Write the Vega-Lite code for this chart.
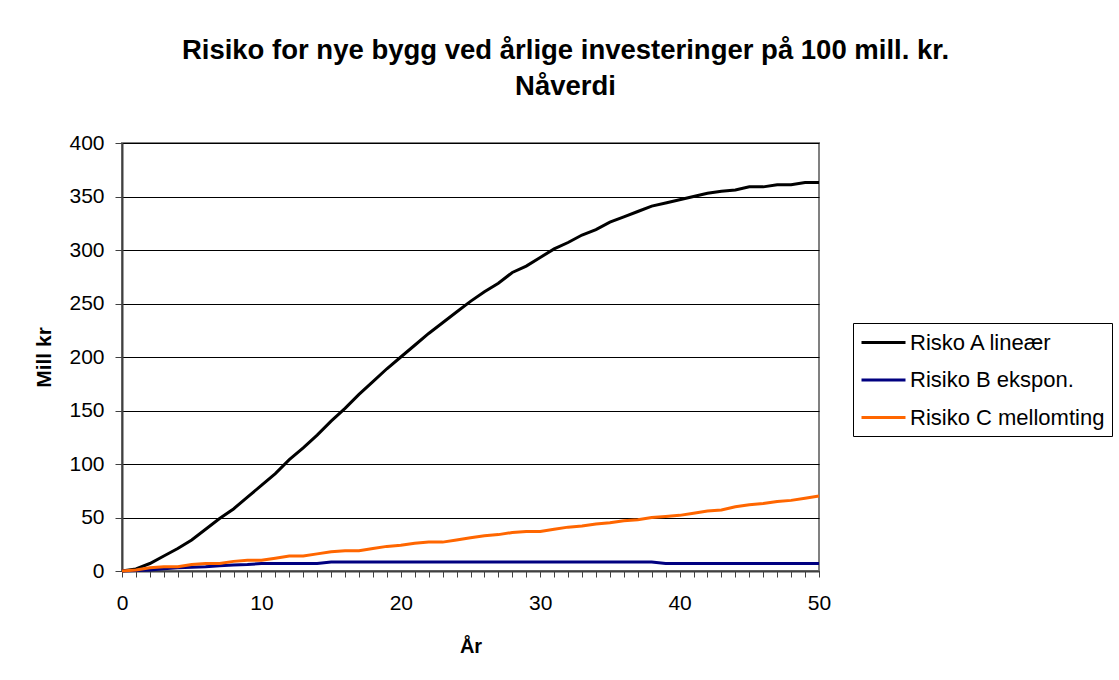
{
  "$schema": "https://vega.github.io/schema/vega-lite/v6.json",
  "autosize": {"type": "none"},
  "width": 697,
  "height": 428,
  "padding": {"left": 122, "top": 143, "right": 300, "bottom": 109},
  "background": "white",
  "title": {
    "text": ["Risiko for nye bygg ved årlige investeringer på 100 mill. kr.", "Nåverdi"],
    "anchor": "middle",
    "frame": "group",
    "dx": 95,
    "offset": 32,
    "font": "Liberation Sans",
    "fontSize": 27.5,
    "fontWeight": "bold",
    "lineHeight": 36,
    "color": "black"
  },
  "config": {
    "font": "Liberation Sans",
    "view": {"stroke": "#808080", "strokeWidth": 2}
  },
  "data": {
    "values": [
      {"year": 0, "serie": "Risko A lineær", "value": 0},
      {"year": 1, "serie": "Risko A lineær", "value": 2},
      {"year": 2, "serie": "Risko A lineær", "value": 7},
      {"year": 3, "serie": "Risko A lineær", "value": 14},
      {"year": 4, "serie": "Risko A lineær", "value": 21},
      {"year": 5, "serie": "Risko A lineær", "value": 29},
      {"year": 6, "serie": "Risko A lineær", "value": 39},
      {"year": 7, "serie": "Risko A lineær", "value": 49},
      {"year": 8, "serie": "Risko A lineær", "value": 58},
      {"year": 9, "serie": "Risko A lineær", "value": 69},
      {"year": 10, "serie": "Risko A lineær", "value": 80},
      {"year": 11, "serie": "Risko A lineær", "value": 91},
      {"year": 12, "serie": "Risko A lineær", "value": 104},
      {"year": 13, "serie": "Risko A lineær", "value": 115},
      {"year": 14, "serie": "Risko A lineær", "value": 127},
      {"year": 15, "serie": "Risko A lineær", "value": 140},
      {"year": 16, "serie": "Risko A lineær", "value": 152},
      {"year": 17, "serie": "Risko A lineær", "value": 165},
      {"year": 18, "serie": "Risko A lineær", "value": 177},
      {"year": 19, "serie": "Risko A lineær", "value": 189},
      {"year": 20, "serie": "Risko A lineær", "value": 200},
      {"year": 21, "serie": "Risko A lineær", "value": 211},
      {"year": 22, "serie": "Risko A lineær", "value": 222},
      {"year": 23, "serie": "Risko A lineær", "value": 232},
      {"year": 24, "serie": "Risko A lineær", "value": 242},
      {"year": 25, "serie": "Risko A lineær", "value": 252},
      {"year": 26, "serie": "Risko A lineær", "value": 261},
      {"year": 27, "serie": "Risko A lineær", "value": 269},
      {"year": 28, "serie": "Risko A lineær", "value": 279},
      {"year": 29, "serie": "Risko A lineær", "value": 285},
      {"year": 30, "serie": "Risko A lineær", "value": 293},
      {"year": 31, "serie": "Risko A lineær", "value": 301},
      {"year": 32, "serie": "Risko A lineær", "value": 307},
      {"year": 33, "serie": "Risko A lineær", "value": 314},
      {"year": 34, "serie": "Risko A lineær", "value": 319},
      {"year": 35, "serie": "Risko A lineær", "value": 326},
      {"year": 36, "serie": "Risko A lineær", "value": 331},
      {"year": 37, "serie": "Risko A lineær", "value": 336},
      {"year": 38, "serie": "Risko A lineær", "value": 341},
      {"year": 39, "serie": "Risko A lineær", "value": 344},
      {"year": 40, "serie": "Risko A lineær", "value": 347},
      {"year": 41, "serie": "Risko A lineær", "value": 350},
      {"year": 42, "serie": "Risko A lineær", "value": 353},
      {"year": 43, "serie": "Risko A lineær", "value": 355},
      {"year": 44, "serie": "Risko A lineær", "value": 356},
      {"year": 45, "serie": "Risko A lineær", "value": 359},
      {"year": 46, "serie": "Risko A lineær", "value": 359},
      {"year": 47, "serie": "Risko A lineær", "value": 361},
      {"year": 48, "serie": "Risko A lineær", "value": 361},
      {"year": 49, "serie": "Risko A lineær", "value": 363},
      {"year": 50, "serie": "Risko A lineær", "value": 363},
      {"year": 0, "serie": "Risiko B ekspon.", "value": 0},
      {"year": 1, "serie": "Risiko B ekspon.", "value": 0.5},
      {"year": 2, "serie": "Risiko B ekspon.", "value": 1},
      {"year": 3, "serie": "Risiko B ekspon.", "value": 2},
      {"year": 4, "serie": "Risiko B ekspon.", "value": 3},
      {"year": 5, "serie": "Risiko B ekspon.", "value": 3.5},
      {"year": 6, "serie": "Risiko B ekspon.", "value": 4},
      {"year": 7, "serie": "Risiko B ekspon.", "value": 5},
      {"year": 8, "serie": "Risiko B ekspon.", "value": 5.5},
      {"year": 9, "serie": "Risiko B ekspon.", "value": 6},
      {"year": 10, "serie": "Risiko B ekspon.", "value": 7},
      {"year": 11, "serie": "Risiko B ekspon.", "value": 7},
      {"year": 12, "serie": "Risiko B ekspon.", "value": 7},
      {"year": 13, "serie": "Risiko B ekspon.", "value": 7},
      {"year": 14, "serie": "Risiko B ekspon.", "value": 7},
      {"year": 15, "serie": "Risiko B ekspon.", "value": 8.5},
      {"year": 16, "serie": "Risiko B ekspon.", "value": 8.5},
      {"year": 17, "serie": "Risiko B ekspon.", "value": 8.5},
      {"year": 18, "serie": "Risiko B ekspon.", "value": 8.5},
      {"year": 19, "serie": "Risiko B ekspon.", "value": 8.5},
      {"year": 20, "serie": "Risiko B ekspon.", "value": 8.5},
      {"year": 21, "serie": "Risiko B ekspon.", "value": 8.5},
      {"year": 22, "serie": "Risiko B ekspon.", "value": 8.5},
      {"year": 23, "serie": "Risiko B ekspon.", "value": 8.5},
      {"year": 24, "serie": "Risiko B ekspon.", "value": 8.5},
      {"year": 25, "serie": "Risiko B ekspon.", "value": 8.5},
      {"year": 26, "serie": "Risiko B ekspon.", "value": 8.5},
      {"year": 27, "serie": "Risiko B ekspon.", "value": 8.5},
      {"year": 28, "serie": "Risiko B ekspon.", "value": 8.5},
      {"year": 29, "serie": "Risiko B ekspon.", "value": 8.5},
      {"year": 30, "serie": "Risiko B ekspon.", "value": 8.5},
      {"year": 31, "serie": "Risiko B ekspon.", "value": 8.5},
      {"year": 32, "serie": "Risiko B ekspon.", "value": 8.5},
      {"year": 33, "serie": "Risiko B ekspon.", "value": 8.5},
      {"year": 34, "serie": "Risiko B ekspon.", "value": 8.5},
      {"year": 35, "serie": "Risiko B ekspon.", "value": 8.5},
      {"year": 36, "serie": "Risiko B ekspon.", "value": 8.5},
      {"year": 37, "serie": "Risiko B ekspon.", "value": 8.5},
      {"year": 38, "serie": "Risiko B ekspon.", "value": 8.5},
      {"year": 39, "serie": "Risiko B ekspon.", "value": 7},
      {"year": 40, "serie": "Risiko B ekspon.", "value": 7},
      {"year": 41, "serie": "Risiko B ekspon.", "value": 7},
      {"year": 42, "serie": "Risiko B ekspon.", "value": 7},
      {"year": 43, "serie": "Risiko B ekspon.", "value": 7},
      {"year": 44, "serie": "Risiko B ekspon.", "value": 7},
      {"year": 45, "serie": "Risiko B ekspon.", "value": 7},
      {"year": 46, "serie": "Risiko B ekspon.", "value": 7},
      {"year": 47, "serie": "Risiko B ekspon.", "value": 7},
      {"year": 48, "serie": "Risiko B ekspon.", "value": 7},
      {"year": 49, "serie": "Risiko B ekspon.", "value": 7},
      {"year": 50, "serie": "Risiko B ekspon.", "value": 7},
      {"year": 0, "serie": "Risiko C mellomting", "value": 0},
      {"year": 1, "serie": "Risiko C mellomting", "value": 1},
      {"year": 2, "serie": "Risiko C mellomting", "value": 3},
      {"year": 3, "serie": "Risiko C mellomting", "value": 4},
      {"year": 4, "serie": "Risiko C mellomting", "value": 4},
      {"year": 5, "serie": "Risiko C mellomting", "value": 6},
      {"year": 6, "serie": "Risiko C mellomting", "value": 7},
      {"year": 7, "serie": "Risiko C mellomting", "value": 7},
      {"year": 8, "serie": "Risiko C mellomting", "value": 9},
      {"year": 9, "serie": "Risiko C mellomting", "value": 10},
      {"year": 10, "serie": "Risiko C mellomting", "value": 10},
      {"year": 11, "serie": "Risiko C mellomting", "value": 12},
      {"year": 12, "serie": "Risiko C mellomting", "value": 14},
      {"year": 13, "serie": "Risiko C mellomting", "value": 14},
      {"year": 14, "serie": "Risiko C mellomting", "value": 16},
      {"year": 15, "serie": "Risiko C mellomting", "value": 18},
      {"year": 16, "serie": "Risiko C mellomting", "value": 19},
      {"year": 17, "serie": "Risiko C mellomting", "value": 19},
      {"year": 18, "serie": "Risiko C mellomting", "value": 21},
      {"year": 19, "serie": "Risiko C mellomting", "value": 23},
      {"year": 20, "serie": "Risiko C mellomting", "value": 24},
      {"year": 21, "serie": "Risiko C mellomting", "value": 26},
      {"year": 22, "serie": "Risiko C mellomting", "value": 27},
      {"year": 23, "serie": "Risiko C mellomting", "value": 27},
      {"year": 24, "serie": "Risiko C mellomting", "value": 29},
      {"year": 25, "serie": "Risiko C mellomting", "value": 31},
      {"year": 26, "serie": "Risiko C mellomting", "value": 33},
      {"year": 27, "serie": "Risiko C mellomting", "value": 34},
      {"year": 28, "serie": "Risiko C mellomting", "value": 36},
      {"year": 29, "serie": "Risiko C mellomting", "value": 37},
      {"year": 30, "serie": "Risiko C mellomting", "value": 37},
      {"year": 31, "serie": "Risiko C mellomting", "value": 39},
      {"year": 32, "serie": "Risiko C mellomting", "value": 41},
      {"year": 33, "serie": "Risiko C mellomting", "value": 42},
      {"year": 34, "serie": "Risiko C mellomting", "value": 44},
      {"year": 35, "serie": "Risiko C mellomting", "value": 45},
      {"year": 36, "serie": "Risiko C mellomting", "value": 47},
      {"year": 37, "serie": "Risiko C mellomting", "value": 48},
      {"year": 38, "serie": "Risiko C mellomting", "value": 50},
      {"year": 39, "serie": "Risiko C mellomting", "value": 51},
      {"year": 40, "serie": "Risiko C mellomting", "value": 52},
      {"year": 41, "serie": "Risiko C mellomting", "value": 54},
      {"year": 42, "serie": "Risiko C mellomting", "value": 56},
      {"year": 43, "serie": "Risiko C mellomting", "value": 57},
      {"year": 44, "serie": "Risiko C mellomting", "value": 60},
      {"year": 45, "serie": "Risiko C mellomting", "value": 62},
      {"year": 46, "serie": "Risiko C mellomting", "value": 63},
      {"year": 47, "serie": "Risiko C mellomting", "value": 65},
      {"year": 48, "serie": "Risiko C mellomting", "value": 66},
      {"year": 49, "serie": "Risiko C mellomting", "value": 68},
      {"year": 50, "serie": "Risiko C mellomting", "value": 70}
    ]
  },
  "mark": {"type": "line", "strokeWidth": 3, "clip": false},
  "encoding": {
    "x": {
      "field": "year",
      "type": "quantitative",
      "scale": {"domain": [0, 50], "nice": false, "zero": true},
      "axis": {
        "title": "År",
        "titleFont": "Liberation Sans",
        "titleFontSize": 20,
        "titleFontWeight": "bold",
        "titleColor": "black",
        "titlePadding": 23,
        "values": [0,1,2,3,4,5,6,7,8,9,10,11,12,13,14,15,16,17,18,19,20,21,22,23,24,25,26,27,28,29,30,31,32,33,34,35,36,37,38,39,40,41,42,43,44,45,46,47,48,49,50],
        "labelExpr": "datum.value % 10 === 0 ? datum.label : ''",
        "labelOverlap": false,
        "labelFlush": false,
        "labelFont": "Liberation Sans",
        "labelFontSize": 21,
        "labelColor": "black",
        "labelPadding": 15,
        "grid": false,
        "domainColor": "#404040",
        "domainWidth": 2,
        "tickColor": "#404040",
        "tickWidth": 1,
        "tickSize": 6
      }
    },
    "y": {
      "field": "value",
      "type": "quantitative",
      "scale": {"domain": [0, 400], "nice": false},
      "axis": {
        "title": "Mill kr",
        "titleFont": "Liberation Sans",
        "titleFontSize": 21,
        "titleFontWeight": "bold",
        "titleColor": "black",
        "titlePadding": 14,
        "values": [0, 50, 100, 150, 200, 250, 300, 350, 400],
        "labelFont": "Liberation Sans",
        "labelFontSize": 21,
        "labelColor": "black",
        "labelPadding": 11,
        "grid": true,
        "gridColor": "black",
        "gridWidth": 1,
        "gridOpacity": 1,
        "domainColor": "#404040",
        "domainWidth": 2,
        "tickColor": "#404040",
        "tickWidth": 1,
        "tickSize": 7
      }
    },
    "color": {
      "field": "serie",
      "type": "nominal",
      "scale": {
        "domain": ["Risko A lineær", "Risiko B ekspon.", "Risiko C mellomting"],
        "range": ["#000000", "#000080", "#FF6600"]
      },
      "legend": {
        "title": null,
        "orient": "none",
        "legendX": 731,
        "legendY": 180,
        "strokeColor": "black",
        "fillColor": "white",
        "padding": 7,
        "symbolType": "M-2,0H2",
        "symbolSize": 484,
        "symbolOffset": 11,
        "symbolStrokeWidth": 3,
        "rowPadding": 13.5,
        "labelFont": "Liberation Sans",
        "labelFontSize": 22,
        "labelColor": "black",
        "labelOffset": 14,
        "labelLimit": 300
      }
    }
  }
}
